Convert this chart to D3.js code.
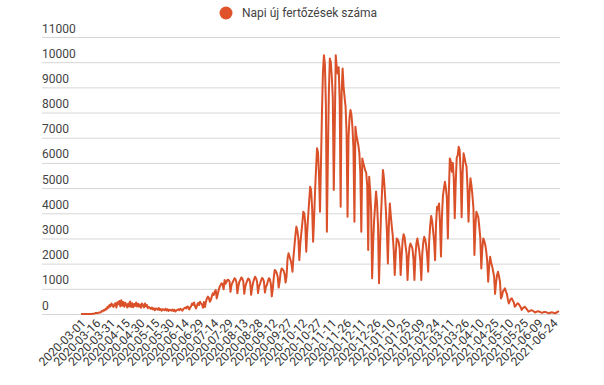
<!DOCTYPE html>
<html>
<head>
<meta charset="utf-8">
<script src="https://cdn.jsdelivr.net/npm/d3@7"></script>
<style>
  body { margin: 0; background: #fff; }
  text { font-family: Roboto, "Noto Sans", sans-serif; }
</style>
</head>
<body>
<div id="chart"></div>
<script>
const seriesName = "Napi új fertőzések száma";
const startDate = new Date(2020, 2, 1);
const endDate = new Date(2021, 6, 1); // exclusive, last point 2021-06-30

// daily new cases, one row per 7 days starting 2020-03-01
const newCases = [
  0, 0, 1, 2, 0, 1, 2,
  0, 2, 2, 4, 4, 11, 7,
  24, 45, 40, 30, 58, 57, 59,
  120, 100, 160, 140, 210, 180, 290,
  250, 360, 300, 420, 350, 280, 380,
  430, 260, 470, 390, 520, 300, 550,
  330, 480, 290, 450, 360, 260, 420,
  300, 500, 280, 430, 270, 400, 320,
  460, 300, 410, 290, 380, 250, 420,
  350, 260, 420, 300, 360, 230, 280,
  250, 200, 260, 190, 230, 150, 220,
  210, 170, 240, 160, 200, 130, 190,
  180, 150, 210, 140, 190, 120, 170,
  150, 130, 180, 120, 170, 100, 140,
  160, 190, 150, 210, 180, 130, 200,
  230, 260, 220, 300, 280, 180, 250,
  320, 420, 360, 460, 300, 220, 340,
  440, 350, 490, 420, 380, 250, 480,
  280, 480, 620, 690, 640, 490, 560,
  700, 820, 760, 890, 950, 620, 780,
  960, 1080, 1150, 1220, 1180, 980, 1350,
  1200, 1280, 1360, 1350, 1300, 880, 1150,
  1250, 1320, 1420, 1390, 1280, 820, 1100,
  1280, 1350, 1450, 1410, 1300, 800, 1080,
  1220, 1320, 1410, 1380, 1250, 760, 1050,
  1250, 1380, 1480, 1420, 1280, 830, 1100,
  1200, 1320, 1430, 1400, 1290, 850, 1080,
  1150, 1300, 1420, 1380, 1200, 700, 1000,
  1450, 1750, 1700, 1620, 1480, 1050, 1300,
  1650, 1810, 1770, 1720, 1580, 1250, 1500,
  2200, 2410, 2280, 2150, 2000, 1680, 2250,
  2700, 3130, 3470, 3300, 3000, 2140, 2800,
  3200, 3600, 4060, 4000, 3600, 2470, 3300,
  3900, 4500, 5050, 4900, 4200, 2870, 3800,
  4900, 5800, 6580, 6400, 5500, 4060, 6000,
  8000, 9600, 10280, 9900, 8300, 3270, 6200,
  8800, 10150, 10000, 9420, 8600, 4920, 7400,
  10280, 9800, 9550, 9800, 8500, 4260, 8800,
  9750, 9000, 8600, 8230, 7200, 3860, 7000,
  7800, 8100, 7900, 7400, 6600, 3660, 7440,
  7100, 6900, 6700, 6400, 5600, 3270, 6180,
  6000, 5850, 5700, 5600, 5100, 2540, 5450,
  4900, 4100, 1420, 2800, 3700, 4300, 4860,
  4400, 3500, 1220, 2600, 3900, 4800, 5720,
  5400, 4800, 4100, 3300, 2010, 3500, 4390,
  3900, 3470, 3100, 2500, 1550, 2400, 3000,
  2950, 2850, 2600, 1550, 2300, 2900, 3170,
  3050, 2700, 2400, 1350, 2200, 2650, 2800,
  2700, 2600, 2200, 1350, 2300, 2800, 3000,
  2750, 2500, 2100, 1350, 2400, 2850, 3070,
  2950, 2700, 2300, 1680, 2900, 3500, 3890,
  3700, 3300, 2900, 2140, 3600, 4260, 4150,
  4390, 3600, 2280, 3900, 4700, 4990, 5250,
  5000, 4600, 3000, 4800, 6180, 6050, 5650,
  6000, 5400, 3800, 5200, 6200, 6300, 6640,
  6500, 5600, 3840, 5600, 6380, 6200, 6000,
  5850, 5000, 3660, 4800, 5390, 5100, 4700,
  4200, 2340, 3500, 4060, 3950, 3840, 3440,
  3000, 1810, 2600, 3000, 2900, 2750, 2500,
  2100, 1280, 1900, 2270, 2050, 1900, 1700,
  1500, 800, 1250, 1550, 1680, 1500, 1280,
  620, 700, 900, 950, 1020, 900, 800,
  580, 420, 520, 600, 620, 540, 470,
  290, 330, 390, 425, 400, 340, 270,
  160, 220, 260, 290, 250, 200, 150,
  90, 110, 130, 150, 130, 110, 80,
  60, 90, 100, 110, 95, 80, 55,
  45, 70, 80, 75, 70, 55, 35,
  30, 50, 65, 60, 55, 40, 30,
  50, 70, 90, 110
];

const tickLabels = [
  "2020-03-01", "2020-03-16", "2020-03-31", "2020-04-15", "2020-04-30",
  "2020-05-15", "2020-05-30", "2020-06-14", "2020-06-29", "2020-07-14",
  "2020-07-29", "2020-08-13", "2020-08-28", "2020-09-12", "2020-09-27",
  "2020-10-12", "2020-10-27", "2020-11-11", "2020-11-26", "2020-12-11",
  "2020-12-26", "2021-01-10", "2021-01-25", "2021-02-09", "2021-02-24",
  "2021-03-11", "2021-03-26", "2021-04-10", "2021-04-25", "2021-05-10",
  "2021-05-25", "2021-06-09", "2021-06-24"
];

const yTicks = [0, 1000, 2000, 3000, 4000, 5000, 6000, 7000, 8000, 9000, 10000, 11000];

const canvasWidth = 604;
const canvasHeight = 385;
const plot = { left: 81, right: 559, top: 37, bottom: 314 };
const grid = { left: 42, right: 560 };
const lineColor = "#da5029";

const fmt = d3.timeFormat("%Y-%m-%d");
const dates = d3.timeDay.range(startDate, endDate).map(fmt);
const data = dates.map((d, i) => ({ date: d, value: newCases[i] }));

const svg = d3.select("#chart")
    .append("svg")
    .attr("width", canvasWidth)
    .attr("height", canvasHeight);

const xScale = d3.scalePoint().domain(dates).range([plot.left, plot.right]);
const yScale = d3.scaleLinear().domain([0, 11000]).range([plot.bottom, plot.top]);

// gridlines + labels sitting on top of each line
svg.append("g")
    .attr("transform", `translate(${grid.left},0)`)
    .call(d3.axisLeft(yScale).tickValues(yTicks).tickSize(-(grid.right - grid.left)).tickFormat(d3.format("d")))
    .call(g => g.select(".domain").remove())
    .call(g => g.selectAll(".tick line").attr("stroke", "#d6d6d6"))
    .call(g => g.selectAll(".tick text")
        .attr("x", 0)
        .attr("dy", -5)
        .attr("text-anchor", "start")
        .attr("font-size", 12)
        .attr("fill", "#444"));

svg.append("g")
    .attr("transform", `translate(0,${plot.bottom})`)
    .call(d3.axisBottom(xScale).tickValues(tickLabels).tickSize(0))
    .call(g => g.select(".domain").remove())
    .call(g => g.selectAll(".tick text")
        .attr("x", 0)
        .attr("y", 0)
        .attr("dy", 0)
        .attr("transform", "translate(5,10) rotate(-45)")
        .attr("text-anchor", "end")
        .attr("font-size", 12)
        .attr("fill", "#333"));

const line = d3.line()
    .x(d => xScale(d.date))
    .y(d => yScale(d.value));

svg.append("path")
    .datum(data)
    .attr("fill", "none")
    .attr("stroke", lineColor)
    .attr("stroke-width", 2)
    .attr("stroke-linejoin", "round")
    .attr("d", line);

// legend
const legend = svg.append("g").attr("transform", "translate(226,13)");
legend.append("circle").attr("r", 6.5).attr("fill", "#e0522a");
legend.append("text")
    .attr("x", 16)
    .attr("y", 4)
    .attr("font-size", 12)
    .attr("fill", "#444")
    .text(seriesName);
</script>
</body>
</html>
